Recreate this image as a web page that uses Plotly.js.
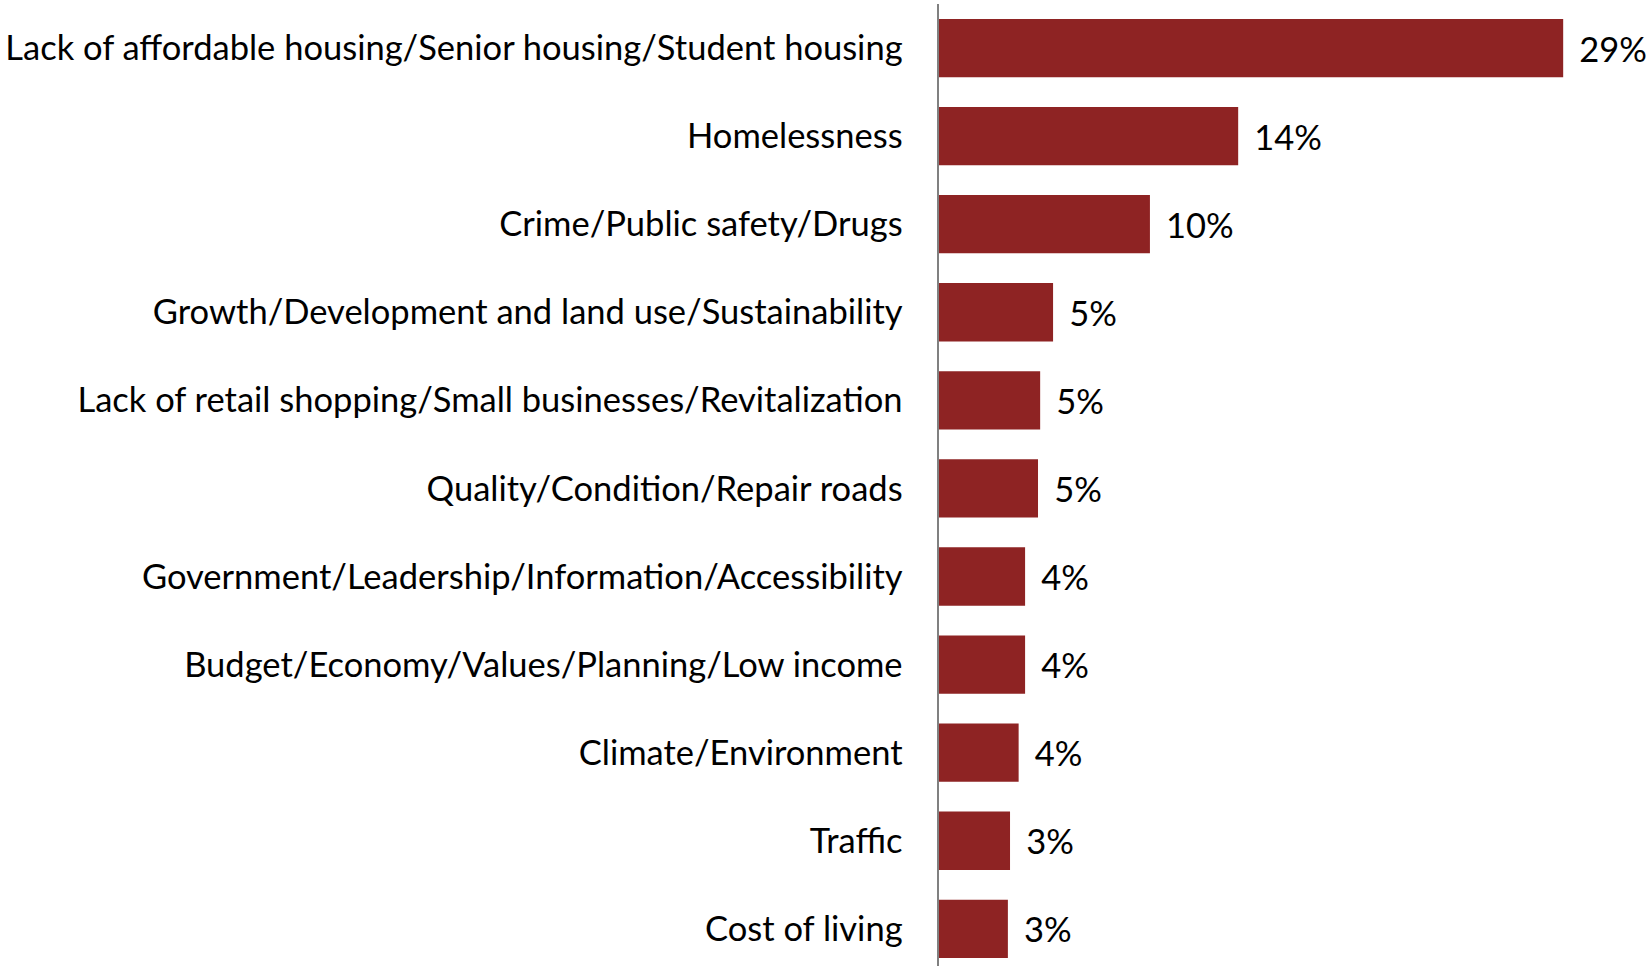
<!DOCTYPE html>
<html>
<head>
<meta charset="utf-8">
<script src="https://cdn.plot.ly/plotly-3.0.1.min.js"></script>
<style>html,body{margin:0;padding:0;background:#fff;}#chart{width:1651px;height:966px;}</style>
</head>
<body>
<div id="chart"></div>
<script>
const categories = [
  "Lack of affordable housing/Senior housing/Student housing",
  "Homelessness",
  "Crime/Public safety/Drugs",
  "Growth/Development and land use/Sustainability",
  "Lack of retail shopping/Small businesses/Revitalization",
  "Quality/Condition/Repair roads",
  "Government/Leadership/Information/Accessibility",
  "Budget/Economy/Values/Planning/Low income",
  "Climate/Environment",
  "Traffic",
  "Cost of living"
];
const values = [29, 13.9, 9.8, 5.3, 4.7, 4.6, 4.0, 4.0, 3.7, 3.3, 3.2];
const valueLabels = ["29%", "14%", "10%", "5%", "5%", "5%", "4%", "4%", "4%", "3%", "3%"];

const FONT = "Lato, 'Open Sans', sans-serif";

Plotly.newPlot("chart", [{
  type: "bar",
  orientation: "h",
  y: categories,
  x: values,
  text: valueLabels.map(s => "\u00a0\u2009" + s),
  textposition: "outside",
  textfont: {family: FONT, size: 34.5, color: "#000"},
  cliponaxis: false,
  marker: {color: "#8E2323"},
  hoverinfo: "skip"
}], {
  width: 1651,
  height: 966,
  margin: {l: 939, r: 0, t: 4, b: 0},
  paper_bgcolor: "#fff",
  plot_bgcolor: "#fff",
  bargap: 0.338,
  showlegend: false,
  xaxis: {range: [0, 33.08], visible: false, fixedrange: true},
  yaxis: {
    type: "category",
    range: [10.422, -0.5],
    showline: true,
    linecolor: "#808080",
    linewidth: 2.5,
    showgrid: false,
    zeroline: false,
    ticks: "",
    ticklabelstandoff: 27,
    tickfont: {family: FONT, size: 34.5, color: "#000"},
    fixedrange: true
  }
}, {displayModeBar: false, staticPlot: true});
</script>
</body>
</html>
